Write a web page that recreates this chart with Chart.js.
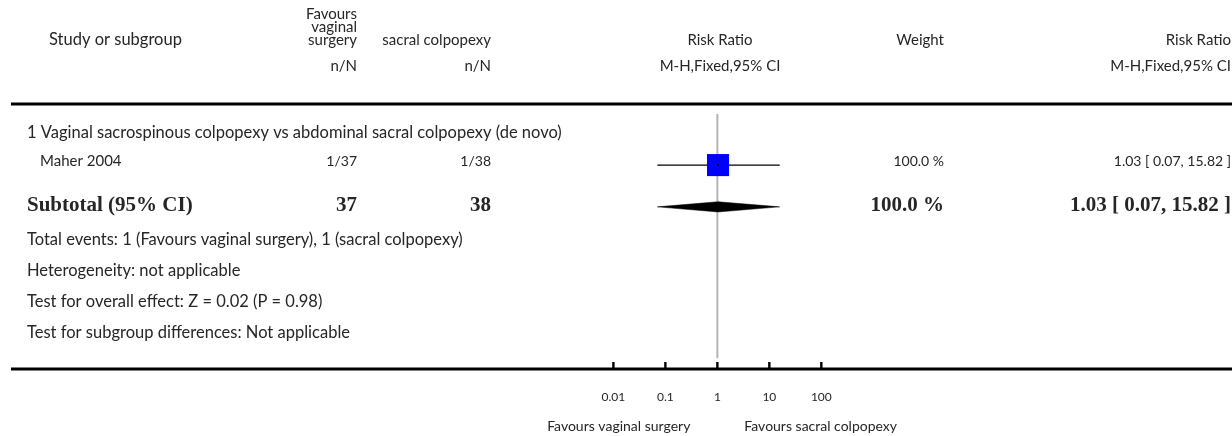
<!DOCTYPE html>
<html>
<head>
<meta charset="utf-8">
<script src="https://cdn.jsdelivr.net/npm/chart.js@4.4.1/dist/chart.umd.min.js"></script>
<style>
  html, body { margin: 0; padding: 0; background: #ffffff; }
  #wrap { width: 1232px; height: 436px; position: relative; }
</style>
</head>
<body>
<div id="wrap"><canvas id="forest" width="1232" height="436"></canvas></div>
<script>
// ---- study data ----
const studies      = ['Maher 2004'];
const expEvents    = [1];
const expTotals    = [37];
const ctlEvents    = [1];
const ctlTotals    = [38];
const riskRatios   = [1.03];
const ciLower      = [0.07];
const ciUpper      = [15.82];
const weights      = [100.0];

// ---- pooled subgroup result ----
const subtotalTotals = [37, 38];
const subtotalEffect = [1.03, 0.07, 15.82];   // estimate, lower, upper
const subtotalWeight = [100.0];

// ---- axis ----
const axisTicks      = [0.01, 0.1, 1, 10, 100];
const axisTickLabels = ['0.01', '0.1', '1', '10', '100'];

// ---- labels ----
const subgroupTitle = '1 Vaginal sacrospinous colpopexy vs abdominal sacral colpopexy (de novo)';
const footerLines = [
  'Total events: 1 (Favours vaginal surgery), 1 (sacral colpopexy)',
  'Heterogeneity: not applicable',
  'Test for overall effect: Z = 0.02 (P = 0.98)',
  'Test for subgroup differences: Not applicable'
];
const favoursLeft  = 'Favours vaginal surgery';
const favoursRight = 'Favours sacral colpopexy';

// ---- layout (pixels) ----
const W = 1232, H = 436;
const X_ONE = 720;          // x of ratio 1
const DECADE = 53.33;       // px per power of ten
const Y = {
  headTop: 14, headMid: 27, headBase: 40, headSub: 66,
  rule: 104, subgroup: 133, study: 161, subtotal: 206,
  foot: [240, 271, 302, 333], axis: 369, tickLab: 397, favours: 426
};
const COL = { study: 49, indent: 27, exp: 357, ctl: 491, plot: 720, weight: 944, effect: 1231 };
const SANS = '"Lato", "Open Sans", sans-serif';
const SERIF = '"Liberation Serif", "DejaVu Serif", serif';
const TXT = '#262626';

const fmtCI = (e, l, u) => e.toFixed(2) + ' [ ' + l.toFixed(2) + ', ' + u.toFixed(2) + ' ]';

const studyRows = studies.map((s, i) => Y.study + i * 28);

// diamond for the pooled estimate
const dHalf = 5.5;
const diamond = [
  { x: subtotalEffect[1], y: Y.subtotal },
  { x: subtotalEffect[0], y: Y.subtotal - dHalf },
  { x: subtotalEffect[2], y: Y.subtotal },
  { x: subtotalEffect[0], y: Y.subtotal + dHalf },
  { x: subtotalEffect[1], y: Y.subtotal }
];

const datasets = [
  { // line of no effect
    data: [{ x: 1, y: Y.rule + 2 }, { x: 1, y: Y.axis }],
    showLine: true, borderColor: '#b4b4b4', borderWidth: 2, pointRadius: 0, order: 5
  },
  ...studies.map((s, i) => ({ // confidence intervals
    data: [{ x: ciLower[i], y: studyRows[i] }, { x: ciUpper[i], y: studyRows[i] }],
    showLine: true, borderColor: '#000000', borderWidth: 1.3, pointRadius: 0, order: 4
  })),
  { // weighted study boxes
    data: studies.map((s, i) => ({ x: riskRatios[i], y: studyRows[i] })),
    pointStyle: 'rect', pointRadius: 15.6, backgroundColor: '#0000ff',
    borderWidth: 0, order: 3
  },
  { // centre marks
    data: studies.map((s, i) => ({ x: riskRatios[i], y: studyRows[i] })),
    pointStyle: 'crossRot', pointRadius: 1.5, borderColor: '#000000',
    borderWidth: 1, order: 2
  },
  { // pooled diamond
    data: diamond, showLine: true, fill: 'shape', backgroundColor: '#000000',
    borderColor: '#000000', borderWidth: 0.5, pointRadius: 0, tension: 0, order: 1
  }
];

function text(ctx, str, x, y, align, font) {
  ctx.font = font;
  ctx.textAlign = align;
  ctx.textBaseline = 'middle';
  ctx.fillStyle = TXT;
  ctx.fillText(str, x, y);
}

const tablePlugin = {
  id: 'forestTable',
  afterDatasetsDraw(chart) {
    const ctx = chart.ctx;
    const xs = chart.scales.x;
    const fh = '15px ' + SANS;        // column headers
    const f = '16.5px ' + SANS;       // body text
    const fn = '14px ' + SANS;        // numeric cells
    const fsw = '14px ' + SANS;       // axis captions
    const fs = '12px ' + SANS;        // tick labels
    const fb = 'bold 21px ' + SERIF;
    ctx.save();

    // header
    text(ctx, 'Study or subgroup', COL.study, Y.headBase, 'left', f);
    text(ctx, 'Favours', COL.exp, Y.headTop, 'right', fh);
    text(ctx, 'vaginal', COL.exp, Y.headMid, 'right', fh);
    text(ctx, 'surgery', COL.exp, Y.headBase, 'right', fh);
    text(ctx, 'sacral colpopexy', COL.ctl, Y.headBase, 'right', fh);
    text(ctx, 'n/N', COL.exp, Y.headSub, 'right', fh);
    text(ctx, 'n/N', COL.ctl, Y.headSub, 'right', fh);
    text(ctx, 'Risk Ratio', COL.plot, Y.headBase, 'center', fh);
    text(ctx, 'M-H,Fixed,95% CI', COL.plot, Y.headSub, 'center', fh);
    text(ctx, 'Weight', COL.weight, Y.headBase, 'right', fh);
    text(ctx, 'Risk Ratio', COL.effect, Y.headBase, 'right', fh);
    text(ctx, 'M-H,Fixed,95% CI', COL.effect, Y.headSub, 'right', fh);

    // header rule
    ctx.fillStyle = '#000000';
    ctx.fillRect(11, Y.rule - 1.5, W - 11, 3);

    // subgroup + studies
    text(ctx, subgroupTitle, COL.indent, Y.subgroup, 'left', f);
    studies.forEach((s, i) => {
      const y = studyRows[i];
      text(ctx, s, 40, y, 'left', fh);
      text(ctx, expEvents[i] + '/' + expTotals[i], COL.exp, y, 'right', fn);
      text(ctx, ctlEvents[i] + '/' + ctlTotals[i], COL.ctl, y, 'right', fn);
      text(ctx, weights[i].toFixed(1) + ' %', COL.weight, y, 'right', fn);
      text(ctx, fmtCI(riskRatios[i], ciLower[i], ciUpper[i]), COL.effect, y, 'right', fn);
    });

    // subtotal
    text(ctx, 'Subtotal (95% CI)', COL.indent, Y.subtotal, 'left', fb);
    text(ctx, String(subtotalTotals[0]), COL.exp, Y.subtotal, 'right', fb);
    text(ctx, String(subtotalTotals[1]), COL.ctl, Y.subtotal, 'right', fb);
    text(ctx, subtotalWeight[0].toFixed(1) + ' %', COL.weight, Y.subtotal, 'right', fb);
    text(ctx, fmtCI(subtotalEffect[0], subtotalEffect[1], subtotalEffect[2]), COL.effect, Y.subtotal, 'right', fb);

    footerLines.forEach((l, i) => text(ctx, l, COL.indent, Y.foot[i], 'left', f));

    // bottom axis with ticks
    ctx.fillStyle = '#000000';
    ctx.fillRect(11, Y.axis - 1.5, W - 11, 3);
    axisTicks.forEach((t, i) => {
      const px = xs.getPixelForValue(t);
      ctx.fillStyle = '#000000';
      ctx.fillRect(px - 1.2, Y.axis - 7, 2.4, 7);
      text(ctx, axisTickLabels[i], px, Y.tickLab, 'center', fs);
    });
    const one = xs.getPixelForValue(1);
    text(ctx, favoursLeft, one - 27, Y.favours, 'right', fsw);
    text(ctx, favoursRight, one + 27, Y.favours, 'left', fsw);

    ctx.restore();
  }
};

new Chart(document.getElementById('forest'), {
  type: 'scatter',
  data: { datasets },
  options: {
    responsive: false,
    animation: false,
    devicePixelRatio: 1,
    layout: { padding: 0 },
    plugins: { legend: { display: false }, tooltip: { enabled: false } },
    elements: { line: { tension: 0 } },
    scales: {
      x: {
        type: 'logarithmic', display: false,
        min: Math.pow(10, -X_ONE / DECADE),
        max: Math.pow(10, (W - X_ONE) / DECADE)
      },
      y: { type: 'linear', display: false, min: 0, max: H, reverse: true }
    },
    clip: false
  },
  plugins: [tablePlugin]
});
</script>
</body>
</html>
